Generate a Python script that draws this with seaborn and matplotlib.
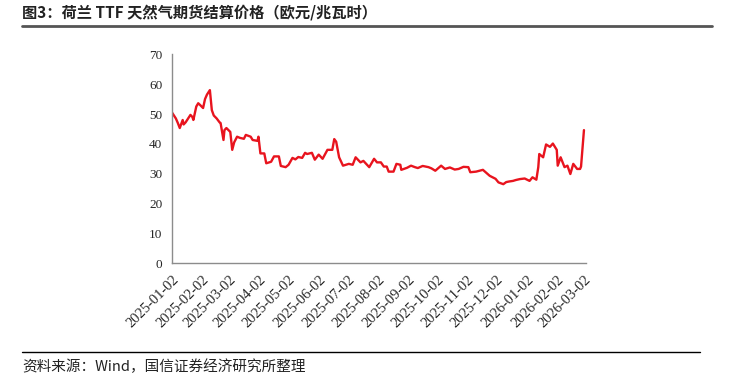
import pandas as pd
import matplotlib.pyplot as plt
import matplotlib.dates as mdates
from matplotlib.lines import Line2D
import seaborn as sns

# TTF 天然气期货结算价格 (欧元/兆瓦时)
dates = [
    '2025-01-02', '2025-01-06', '2025-01-08', '2025-01-10', '2025-01-13', '2025-01-14',
    '2025-01-16', '2025-01-21', '2025-01-23', '2025-01-24', '2025-01-27', '2025-01-29',
    '2025-01-31', '2025-02-03', '2025-02-05', '2025-02-07', '2025-02-10', '2025-02-12',
    '2025-02-14', '2025-02-17', '2025-02-20', '2025-02-21', '2025-02-24', '2025-02-25',
    '2025-02-27', '2025-03-03', '2025-03-05', '2025-03-07', '2025-03-10', '2025-03-13',
    '2025-03-17', '2025-03-19', '2025-03-24', '2025-03-26', '2025-03-31', '2025-04-01',
    '2025-04-03', '2025-04-07', '2025-04-09', '2025-04-14', '2025-04-17', '2025-04-22',
    '2025-04-24', '2025-04-29', '2025-05-02', '2025-05-06', '2025-05-09', '2025-05-12',
    '2025-05-16', '2025-05-19', '2025-05-21', '2025-05-26', '2025-05-29', '2025-06-02',
    '2025-06-06', '2025-06-11', '2025-06-16', '2025-06-18', '2025-06-20', '2025-06-23',
    '2025-06-27', '2025-07-03', '2025-07-07', '2025-07-10', '2025-07-15', '2025-07-18',
    '2025-07-24', '2025-07-29', '2025-08-01', '2025-08-05', '2025-08-08', '2025-08-11',
    '2025-08-13', '2025-08-18', '2025-08-21', '2025-08-25', '2025-08-26', '2025-09-01',
    '2025-09-05', '2025-09-09', '2025-09-12', '2025-09-17', '2025-09-23', '2025-09-26',
    '2025-09-30', '2025-10-06', '2025-10-10', '2025-10-15', '2025-10-20', '2025-10-24',
    '2025-10-29', '2025-11-03', '2025-11-05', '2025-11-11', '2025-11-18', '2025-11-25',
    '2025-12-01', '2025-12-04', '2025-12-09', '2025-12-12', '2025-12-15', '2025-12-19',
    '2025-12-22', '2025-12-26', '2025-12-31', '2026-01-05', '2026-01-08', '2026-01-12',
    '2026-01-14', '2026-01-15', '2026-01-19', '2026-01-22', '2026-01-26', '2026-01-29',
    '2026-02-02', '2026-02-03', '2026-02-06', '2026-02-10', '2026-02-13', '2026-02-16',
    '2026-02-19', '2026-02-23', '2026-02-26', '2026-02-27', '2026-03-02',
]
prices = [
    50.5, 48.5, 47.0, 45.3, 48.0, 46.5,
    47.2, 49.7, 49.0, 48.0, 52.5, 53.6,
    53.0, 52.0, 55.0, 56.5, 58.0, 51.3,
    49.5, 48.5, 47.2, 47.0, 41.3, 44.6,
    45.3, 44.0, 38.0, 40.5, 42.4, 42.0,
    41.7, 43.0, 42.4, 41.3, 41.0, 42.4,
    36.8, 36.8, 33.5, 34.0, 35.8, 35.8,
    32.6, 32.2, 33.0, 35.3, 34.8, 35.6,
    35.3, 37.0, 36.6, 37.0, 34.7, 36.4,
    35.0, 38.0, 38.0, 41.6, 40.7, 35.5,
    32.7, 33.3, 33.0, 35.5, 33.8, 34.3,
    32.2, 35.0, 33.8, 33.8, 32.4, 32.4,
    30.7, 30.7, 33.3, 33.0, 31.3, 32.0,
    32.7, 32.2, 31.9, 32.6, 32.2, 31.8,
    31.0, 32.7, 31.6, 32.1, 31.4, 31.6,
    32.3, 32.2, 30.5, 30.7, 31.3, 29.3,
    28.3, 27.1, 26.5, 27.2, 27.4, 27.6,
    27.9, 28.2, 28.4, 27.6, 28.8, 28.0,
    32.2, 36.6, 35.5, 39.8, 39.0, 40.1,
    38.0, 32.7, 35.5, 32.2, 32.7, 29.9,
    33.3, 31.6, 31.6, 32.4, 44.6,
]
tick_dates = pd.date_range('2025-01-01', '2026-03-01', freq='MS') + pd.Timedelta(days=1)
y_ticks = [0, 10, 20, 30, 40, 50, 60, 70]

df = pd.DataFrame({'date': pd.to_datetime(dates), 'price': prices})

sns.set_style("white")
plt.rcParams['font.family'] = ['Noto Sans CJK SC', 'DejaVu Sans']

fig = plt.figure(figsize=(7.3, 3.77), dpi=100)
ax = fig.add_axes([0.2356, 0.3016, 0.567, 0.5544])

sns.lineplot(data=df, x='date', y='price', color='#E8141E', linewidth=1.7, ax=ax)

ax.set_xlim(pd.Timestamp('2025-01-02'), pd.Timestamp('2026-03-04'))
ax.set_ylim(0, 70)
ax.set_yticks(y_ticks)
ax.set_xticks(tick_dates)
ax.xaxis.set_major_formatter(mdates.DateFormatter('%Y-%m-%d'))
ax.set_xlabel('')
ax.set_ylabel('')

for s in ['top', 'right']:
    ax.spines[s].set_visible(False)
for s in ['left', 'bottom']:
    ax.spines[s].set_color('#8c8c8c')
    ax.spines[s].set_linewidth(1.0)

ax.tick_params(axis='both', direction='out', length=4, width=1, color='#8c8c8c', pad=3)
for lab in ax.get_yticklabels():
    lab.set_family('Liberation Serif')
    lab.set_fontsize(9.5)
for lab in ax.get_xticklabels():
    lab.set_family('Liberation Serif')
    lab.set_fontsize(10.5)
    lab.set_rotation(45)
    lab.set_ha('right')
    lab.set_rotation_mode('anchor')

# Title, rules and source note
fig.text(22 / 730, 1 - 12 / 377, '图3：荷兰 TTF 天然气期货结算价格（欧元/兆瓦时）',
         fontsize=11, fontweight='bold', color='#222222', va='center', ha='left')
fig.add_artist(Line2D([22 / 730, 712 / 730], [1 - 26 / 377, 1 - 26 / 377],
                      color='#555555', linewidth=2))
fig.add_artist(Line2D([22 / 730, 700 / 730], [1 - 352 / 377, 1 - 352 / 377],
                      color='black', linewidth=1))
fig.text(22 / 730, 1 - 367 / 377, '资料来源：Wind，国信证券经济研究所整理',
         fontsize=10.5, color='#222222', va='center', ha='left')

plt.savefig('out.png', dpi=100)
